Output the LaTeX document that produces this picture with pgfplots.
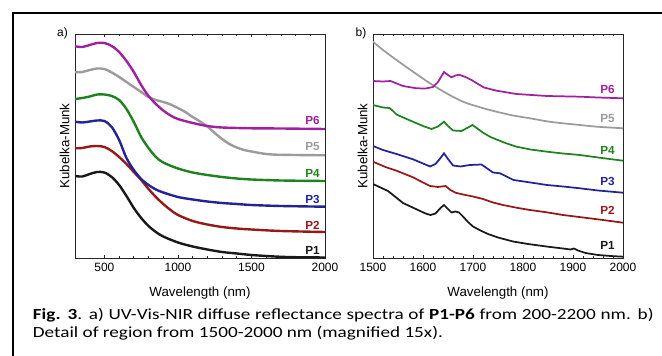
\documentclass[border=0pt]{standalone}
\usepackage{fontspec}
\setmainfont{Liberation Sans}
\newfontfamily\capfont[FakeStretch=1.24]{Carlito}
\usepackage{pgfplots}
\pgfplotsset{compat=1.18}
\definecolor{cP6}{RGB}{160,32,160}
\definecolor{cP5}{RGB}{155,155,155}
\definecolor{cP4}{RGB}{30,130,30}
\definecolor{cP3}{RGB}{35,35,150}
\definecolor{cP2}{RGB}{150,25,25}
\definecolor{cP1}{RGB}{25,25,25}
\pgfplotsset{
  panel/.style={
    scale only axis, width=187.5pt, height=168pt, anchor=south west,
    ymin=0, ymax=224, ytick=\empty,
    axis line style={line width=0.7pt, black!85},
    tick style={black!85, line width=0.5pt},
    major tick length=2.2pt, minor tick length=1.3pt,
    minor x tick num=4,
    tick label style={font=\fontsize{9}{10}\selectfont},
    /pgf/number format/assume math mode=true,
    /pgf/number format/1000 sep={},
    xlabel={Wavelength (nm)}, ylabel={Kubelka-Munk},
    label style={font=\fontsize{10}{11}\selectfont},
    xlabel style={at={(axis description cs:0.5,-0.156)}, anchor=center},
    ylabel style={at={(axis description cs:-0.042,0.5)}, anchor=center},
    clip=true,
  },
}
\tikzset{plab/.style={font=\bfseries\fontsize{8.8}{9}\selectfont, anchor=east, inner sep=0pt}}
\begin{document}
\begin{tikzpicture}
\useasboundingbox (0,0) rectangle (496.5pt,-267pt);
\draw[line width=1.5pt] (9.75pt,-268pt) -- (9.75pt,-9.4pt) -- (497pt,-9.4pt);

% ---------- panel a ----------
\begin{axis}[panel, at={(56.25pt,-193.5pt)}, xmin=300, xmax=2000,
  xtick={500,1000,1500,2000}]
\addplot[cP1, line width=1.8pt, smooth] coordinates {(300,82) (350,81.5) (400,84) (450,86) (500,85.5) (550,81) (600,73) (650,62) (700,50) (750,40) (800,32) (850,26) (900,21.5) (1000,15.5) (1100,11.5) (1200,8.5) (1300,6) (1400,4.5) (1500,3) (1600,2) (1700,1.2) (1800,0.8) (2000,0.5)};
\addplot[cP2, line width=1.8pt, smooth] coordinates {(300,109.7) (350,110) (400,111.5) (450,112) (500,111) (550,107) (600,101) (650,94) (700,86) (750,78) (800,69) (850,61) (900,54) (950,48) (1000,43) (1100,37) (1200,33.5) (1300,31) (1400,29.5) (1500,28.5) (1700,27) (2000,26)};
\addplot[cP3, line width=1.8pt, smooth] coordinates {(300,136.3) (350,135.5) (400,136.5) (450,137.5) (500,137) (550,131) (600,118) (650,100) (700,88) (750,79) (800,73) (850,68.5) (900,65.5) (1000,61) (1100,58.5) (1200,56.5) (1300,55) (1400,54) (1500,53) (1700,52) (2000,51.3)};
\addplot[cP4, line width=1.8pt, smooth] coordinates {(300,159) (350,160) (400,161.5) (450,163.5) (500,163.5) (550,162) (600,158) (650,149) (700,136) (750,121) (800,110) (850,101) (900,95.5) (1000,89.5) (1100,85.5) (1200,83) (1300,81) (1400,79.5) (1500,78.5) (1700,77.5) (2000,77)};
\addplot[cP5, line width=1.8pt, smooth] coordinates {(300,185.7) (350,186) (400,188) (450,189.5) (500,189) (550,185.5) (600,181) (650,176) (700,171) (750,166) (800,161) (850,158) (900,156) (950,153.5) (1000,150) (1050,146) (1100,141) (1150,136.5) (1200,131.5) (1250,125) (1300,119) (1350,114) (1400,110.5) (1450,108) (1500,106.5) (1600,104) (1700,103.2) (2000,102.7)};
\addplot[cP6, line width=1.8pt, smooth] coordinates {(300,211.7) (350,211) (400,213) (450,215) (500,215) (550,212) (600,206) (650,197) (700,186) (750,173) (800,162) (850,154) (900,147.5) (950,142.5) (1000,139) (1100,135) (1200,132) (1300,130.5) (1500,129.7) (1700,129.5) (2000,129)};
\node[plab, text=cP6] at (axis cs:1966,137.3) {P6};
\node[plab, text=cP5] at (axis cs:1966,111.3) {P5};
\node[plab, text=cP4] at (axis cs:1966,84.7) {P4};
\node[plab, text=cP3] at (axis cs:1966,59) {P3};
\node[plab, text=cP2] at (axis cs:1966,33) {P2};
\node[plab, text=cP1] at (axis cs:1966,8) {P1};
\end{axis}
\node[font=\fontsize{9}{10}\selectfont] at (46.9pt,-25.1pt) {a)};

% ---------- panel b ----------
\begin{axis}[panel, at={(279.75pt,-193.5pt)}, xmin=1500, xmax=2000,
  xtick={1500,1600,1700,1800,1900,2000}]
\addplot[cP1, line width=1.3pt] coordinates {(1500,74) (1515,70.5) (1530,67) (1540,63) (1550,59) (1560,55) (1575,51.5) (1590,48) (1605,44.5) (1615,43) (1625,44.5) (1635,50) (1642,53) (1650,49) (1657,45.5) (1665,46.5) (1672,45.5) (1680,41.5) (1690,36) (1700,31.5) (1715,27.5) (1730,24) (1750,20.5) (1780,16.5) (1810,14) (1850,11.3) (1880,9.5) (1895,8.5) (1902,9.5) (1910,7.5) (1925,5) (1950,3) (1975,2) (2000,1.3)};
\addplot[cP2, line width=1.3pt] coordinates {(1500,96.3) (1525,91) (1547,87.3) (1580,80.7) (1600,75.5) (1614,72) (1630,71) (1645,72) (1655,68) (1665,65.3) (1680,63.5) (1700,61.5) (1720,59) (1740,55.5) (1760,53) (1790,50) (1814,48) (1850,45.5) (1880,43) (1920,40.5) (1960,38) (2000,35.3)};
\addplot[cP3, line width=1.3pt] coordinates {(1500,112) (1520,108) (1547,104) (1580,98.7) (1600,94.5) (1614,91.5) (1625,94) (1635,100) (1642,104.7) (1650,99) (1660,92.5) (1675,91.5) (1694,93) (1717,93.5) (1730,89) (1740,85.5) (1754,84.7) (1765,82) (1781,78) (1815,75.5) (1848,73) (1880,71.5) (1914,69.7) (1950,67.5) (2000,65.3)};
\addplot[cP4, line width=1.3pt] coordinates {(1500,153) (1520,150.5) (1533,150) (1540,147) (1547,143.5) (1565,139.5) (1580,136.3) (1600,132) (1617,129) (1630,131.5) (1642,136.3) (1650,132) (1660,127.5) (1677,127) (1690,130.5) (1699,133) (1710,129) (1720,125.3) (1735,121) (1747,118.5) (1765,115) (1787,111.3) (1815,108.5) (1848,106.3) (1880,104.5) (1914,103) (1950,100.5) (2000,97.3)};
\addplot[cP5, line width=1.3pt, smooth] coordinates {(1500,216.3) (1520,208) (1547,198) (1580,186.3) (1614,174.7) (1647,164.7) (1680,156.3) (1714,150.7) (1747,146.3) (1780,142.5) (1814,139.7) (1850,136.5) (1880,134.7) (1914,133) (1948,131.3) (2000,129.7)};
\addplot[cP6, line width=1.3pt] coordinates {(1500,177) (1520,176.5) (1535,177) (1545,175) (1560,172) (1587,169.7) (1605,169.5) (1620,171) (1630,176) (1642,186) (1650,183) (1657,180.7) (1665,182.5) (1672,183.3) (1685,181) (1697,178) (1710,174) (1722,170.5) (1747,167.3) (1787,164) (1848,162) (1914,161.3) (1950,160.5) (2000,159.7)};
\node[plab, text=cP6] at (axis cs:1984,168.7) {P6};
\node[plab, text=cP5] at (axis cs:1984,139) {P5};
\node[plab, text=cP4] at (axis cs:1984,108) {P4};
\node[plab, text=cP3] at (axis cs:1984,76.3) {P3};
\node[plab, text=cP2] at (axis cs:1984,48) {P2};
\node[plab, text=cP1] at (axis cs:1984,12.3) {P1};
\end{axis}
\node[font=\fontsize{9}{10}\selectfont] at (270.75pt,-25.1pt) {b)};

% ---------- caption ----------
\node[anchor=base west, inner sep=0pt, font=\capfont\fontsize{11.6}{13}\selectfont] at (24.5pt,-239.5pt)
  {\makebox[465.5pt][s]{\textbf{Fig. 3}. a) UV-Vis-NIR diffuse reflectance spectra of \textbf{P1-P6} from 200-2200 nm. b)}};
\node[anchor=base west, inner sep=0pt, font=\capfont\fontsize{11.6}{13}\selectfont] at (24.5pt,-253pt)
  {Detail of region from 1500-2000 nm (magnified 15x).};
\end{tikzpicture}
\end{document}
